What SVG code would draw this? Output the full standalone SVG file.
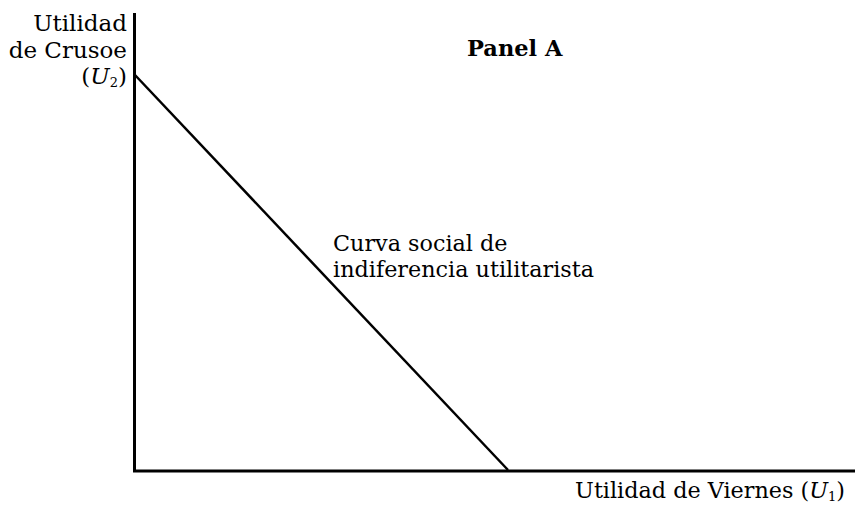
<svg xmlns="http://www.w3.org/2000/svg" width="855" height="508" viewBox="0 0 855 508">
<style>
.t{font-family:"DejaVu Serif","Liberation Serif",serif;font-size:23px;fill:#000}
.s{font-size:22.3px}
.b{font-weight:bold;font-size:22.5px}
.ax{stroke:#000;stroke-width:3;fill:none}
.cv{stroke:#000;stroke-width:2.5;fill:none}
</style>
<rect width="855" height="508" fill="#fff"/>
<g id="axes">
<path class="ax" d="M134.5 13 V471 H855"/>
</g>
<g id="connectors">
<path class="cv" d="M135 75 L508 470"/>
</g>
<g id="y-label">
<text class="t" x="127" y="31" text-anchor="end">Utilidad</text>
<text class="t" x="127" y="58" text-anchor="end">de Crusoe</text>
<text class="t" x="127" y="84" text-anchor="end">(<tspan font-style="italic">U</tspan><tspan font-size="13" dy="3">2</tspan><tspan dy="-3">)</tspan></text>
</g>
<g id="title">
<text class="t b" x="467" y="56">Panel A</text>
</g>
<g id="curve-label">
<text class="t s" x="333" y="251">Curva social de</text>
<text class="t s" x="333" y="277">indiferencia utilitarista</text>
</g>
<g id="x-label">
<text class="t s" x="845" y="498" text-anchor="end">Utilidad de Viernes (<tspan font-style="italic">U</tspan><tspan font-size="13" dy="3">1</tspan><tspan dy="-3">)</tspan></text>
</g>
</svg>
